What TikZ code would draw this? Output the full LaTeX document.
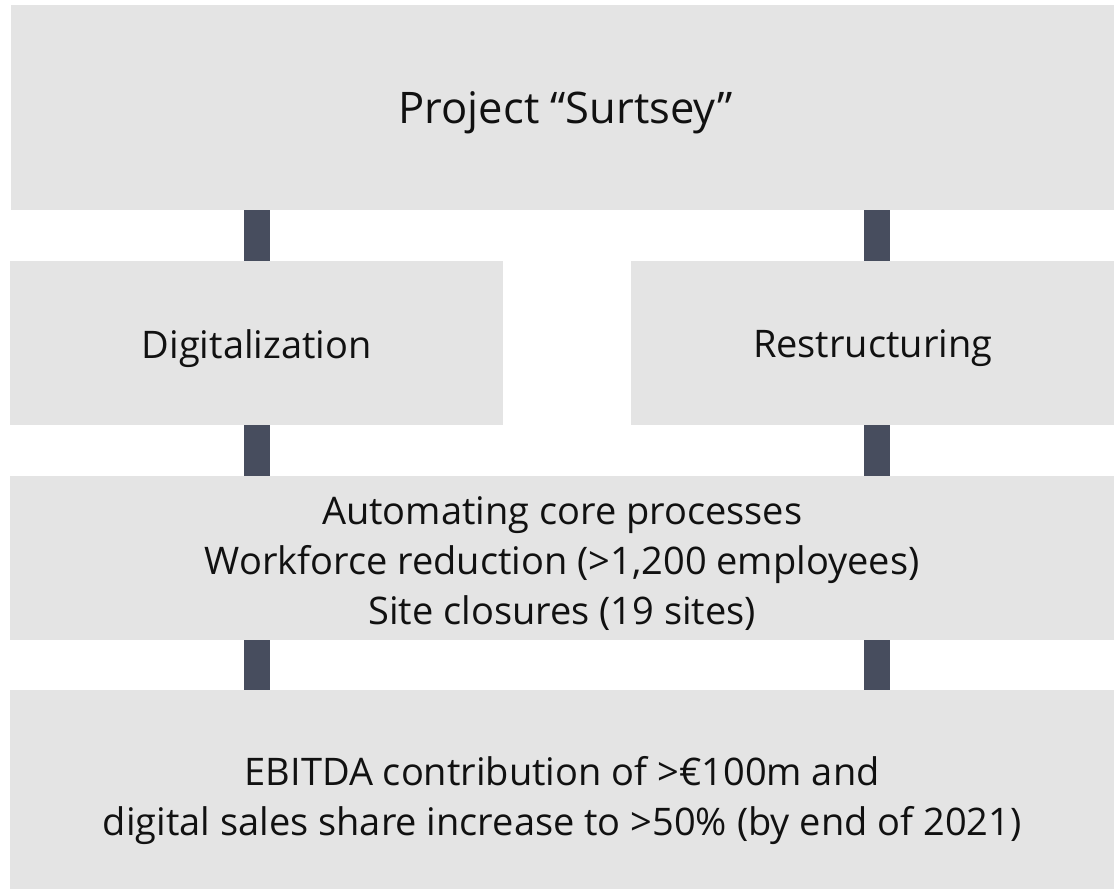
\documentclass[tikz,border=0pt]{standalone}
\usepackage{fontspec}
\setmainfont{Open Sans}
\definecolor{boxgray}{HTML}{E4E4E4}
\definecolor{barslate}{HTML}{474D5E}
\definecolor{txtcol}{HTML}{111111}
\tikzset{
  panel/.style={rectangle, fill=boxgray, draw=none, inner sep=0pt, anchor=north west},
  label/.style={text=txtcol, align=center, inner sep=0pt, yshift=-5pt,
    font=\fontsize{38pt}{50pt}\selectfont},
  titlelabel/.style={label, font=\fontsize{43.5pt}{52pt}\selectfont},
  bar/.style={draw=barslate, line width=26pt, line cap=butt}
}
\begin{document}
\begin{tikzpicture}[x=1pt, y=-1pt]
\useasboundingbox (0,0) rectangle (1114,889);
% panels
\node[panel, minimum width=1104pt, minimum height=205pt] (top) at (10.5,5) {};
\node[panel, minimum width=493pt, minimum height=164pt] (dig) at (10,261) {};
\node[panel, minimum width=483pt, minimum height=164pt] (res) at (631,261) {};
\node[panel, minimum width=1104pt, minimum height=164pt] (mid) at (10,476) {};
\node[panel, minimum width=1104pt, minimum height=199pt] (bot) at (10,690) {};
% connector anchors
\coordinate (lx) at (257,0);
\coordinate (rx) at (877,0);
% bars
\draw[bar] (top.south -| lx) -- (dig.north -| lx);
\draw[bar] (top.south -| rx) -- (res.north -| rx);
\draw[bar] (dig.south -| lx) -- (mid.north -| lx);
\draw[bar] (res.south -| rx) -- (mid.north -| rx);
\draw[bar] (mid.south -| lx) -- (bot.north -| lx);
\draw[bar] (mid.south -| rx) -- (bot.north -| rx);
% texts
\node[titlelabel] (toptxt) at ([xshift=3pt]top.center) {Project “Surtsey”};
\node[label] (digtxt) at (dig.center) {Digitalization};
\node[label] (restxt) at (res.center) {Restructuring};
\node[label] (midtxt) at (mid.center) {Automating core processes\\Workforce reduction (>1,200 employees)\\Site closures (19 sites)};
\node[label] (bottxt) at ([yshift=-6pt]bot.center) {EBITDA contribution of >€100m and\\digital sales share increase to >50\% (by end of 2021)};
\end{tikzpicture}
\end{document}
